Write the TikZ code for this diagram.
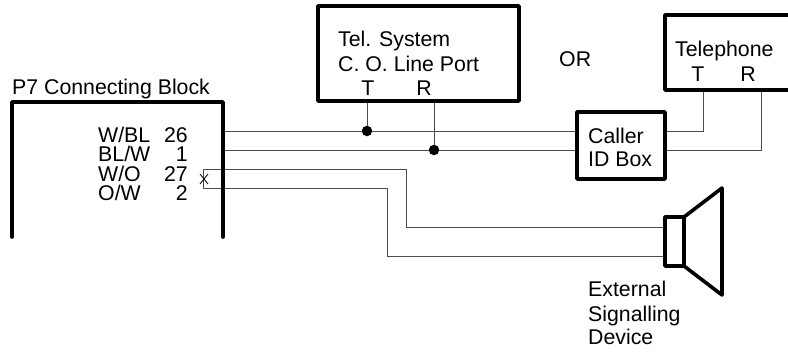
\documentclass[tikz,border=0pt]{standalone}
\usepackage{fontspec}
\setmainfont{Liberation Sans}
\usetikzlibrary{calc}
\definecolor{wire}{gray}{0.3}
\tikzset{
  x=1pt,y=-1pt,
  thickbox/.style={draw=black,line width=3.6pt,line join=round,line cap=round},
  wirel/.style={draw=wire,line width=1pt},
  lbl/.style={anchor=base west,inner sep=0pt,font=\fontsize{21.3}{24}\selectfont},
  lblc/.style={anchor=base,inner sep=0pt,font=\fontsize{21.3}{24}\selectfont},
  lblr/.style={anchor=base east,inner sep=0pt,font=\fontsize{21.3}{24}\selectfont},
  dot/.style={circle,fill=black,inner sep=0pt,minimum size=10.5pt},
  pt/.style={inner sep=0pt,minimum size=0pt},
}
\begin{document}
\begin{tikzpicture}
\useasboundingbox (0,0) rectangle (788,354);
% coordinates
\coordinate (blT) at (12,102);
\coordinate (a1) at (223,131);
\coordinate (a2) at (223,150);
\coordinate (b1) at (203,169);
\coordinate (b2) at (203,188);
\coordinate (cL1) at (577,131);
\coordinate (cL2) at (577,150);
\coordinate (cR1) at (665,131);
\coordinate (cR2) at (665,150);
\coordinate (tT) at (703,90);
\coordinate (tR) at (761,90);
\coordinate (sT) at (367,101);
\coordinate (sR) at (434,101);
\coordinate (sp1) at (665,227);
\coordinate (sp2) at (665,256);
\node[dot] (d1) at (367,131) {};
\node[dot] (d2) at (434,150) {};
% wires
\draw[wirel] (a1) -- (d1) -- (cL1);
\draw[wirel] (a2) -- (d2) -- (cL2);
\draw[wirel] (sT) -- (d1);
\draw[wirel] (sR) -- (d2);
\draw[wirel] (cR1) -| (tT);
\draw[wirel] (cR2) -| (tR);
\draw[wirel] (b2) -- (b1) -- (406,169) |- (sp1);
\draw[wirel] (b1) -- (b2) -- (387,188) |- (sp2);
% cross
\node[pt] (x) at (204,179) {};
\draw[line width=0.8pt] ($(x)+(-4,-5)$) -- ($(x)+(4,5)$);
\draw[line width=0.8pt] ($(x)+(-4,5)$) -- ($(x)+(4,-5)$);
% boxes
\draw[thickbox] (12,237) -- (blT) -- (223,102) -- (223,237);
\draw[thickbox] (318,6) rectangle (519,101);
\draw[thickbox] (790,15) -- (665,15) -- (665,90) -- (790,90);
\draw[thickbox] (577,112) rectangle (665,179);
\draw[thickbox] (665,217) rectangle (684,266);
\draw[thickbox] (684,217) -- (722,188) -- (722,295) -- (684,266);
% labels
\node[lbl] (l1) at (12,94) {P7 Connecting Block};
\node[lbl] (l2) at (98,142) {W/BL};
\node[lbl] (l3) at (98,161) {BL/W};
\node[lbl] (l4) at (98,181) {W/O};
\node[lbl] (l5) at (98,200) {O/W};
\node[lblr] (n1) at (188,142) {26};
\node[lblr] (n2) at (188,161) {1};
\node[lblr] (n3) at (188,181) {27};
\node[lblr] (n4) at (188,200) {2};
\node[lbl] (t1) at (338,46) {Tel. System};
\node[lbl] (t2) at (338,71) {C. O. Line Port};
\node[lblc] (t3) at (368,95) {T};
\node[lblc] (t4) at (424,95) {R};
\node[lbl] (or) at (559,66) {OR};
\node[lbl] (p1) at (675,56) {Telephone};
\node[lblc] (p2) at (698,81) {T};
\node[lblc] (p3) at (748,81) {R};
\node[lbl] (c1) at (588,143) {Caller};
\node[lbl] (c2) at (588,166) {ID Box};
\node[lbl] (e1) at (588,296) {External};
\node[lbl] (e2) at (588,321) {Signalling};
\node[lbl] (e3) at (588,344) {Device};
\end{tikzpicture}
\end{document}
